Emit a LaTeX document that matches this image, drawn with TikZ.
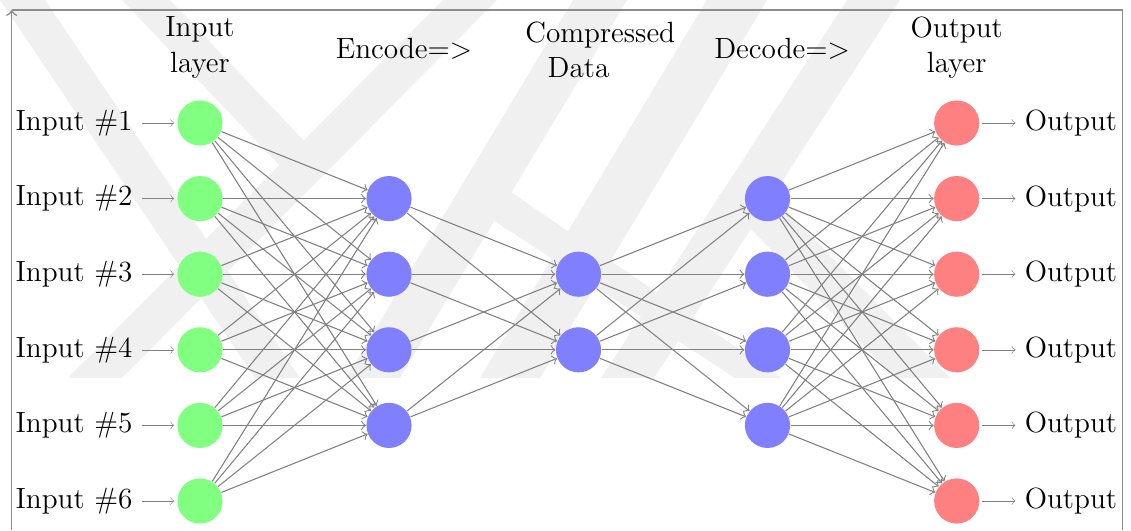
\documentclass[tikz,border=0pt]{standalone}
\begin{document}
\begin{tikzpicture}[x=0.013228cm, y=-0.013228cm,
    every node/.style={font=\fontsize{11}{13.3}\selectfont},
    neuron/.style={circle, minimum size=17pt, inner sep=0pt},
    input neuron/.style={neuron, fill=green!50},
    hidden neuron/.style={neuron, fill=blue!50},
    output neuron/.style={neuron, fill=red!50},
    link/.style={->, draw=black!50},
    in pin/.style={pin edge={<-, draw=black!50, shorten <=1pt}, pin distance=13.2pt},
    out pin/.style={pin edge={->, draw=black!50, shorten <=1pt}, pin distance=13.4pt},
    annot/.style={text width=4em, align=center},
    framing/.style={draw=black!45, line width=0.6pt},
    mark band/.style={fill=black!6, draw=none}]
  \useasboundingbox (0,0) rectangle (1131,530);

  % light background emblem
  \fill[mark band] (0,0) -- (45,0) -- (300,378) -- (255,378) -- cycle;
  \fill[mark band] (122,0) -- (170,0) -- (329,167) -- (281,167) -- cycle;
  \fill[mark band] (443,0) -- (497,0) -- (122,378) -- (68,378) -- cycle;
  \fill[mark band] (573,0) -- (627,0) -- (400,378) -- (346,378) -- cycle;
  \fill[mark band] (470,205) -- (505,188) -- (781,378) -- (735,378) -- cycle;
  \fill[mark band] (707,0) -- (767,0) -- (540,378) -- (480,378) -- cycle;
  \fill[mark band] (847,0) -- (900,0) -- (654,378) -- (601,378) -- cycle;
  \fill[mark band] (718,195) -- (771,195) -- (950,378) -- (895,378) -- cycle;

  % frame
  \coordinate (fbl) at (11.7,530);
  \coordinate (ftl) at (11.7,10);
  \coordinate (ftr) at (1122.5,10);
  \coordinate (fbr) at (1122.5,530);
  \draw[framing, ->] (fbl) -- (ftl);
  \draw[framing] (ftl) -- (ftr) -- (fbr);

  % input layer
  \foreach \k in {1,...,6}
    \node[input neuron, pin={[in pin]left:Input \#\k}]
      (I-\k) at (200, {123+75.6*(\k-1)}) {};

  % encoder layer
  \foreach \k in {1,...,4}
    \node[hidden neuron] (H-\k) at (389, {198.6+75.6*(\k-1)}) {};

  % compressed layer
  \foreach \k in {1,2}
    \node[hidden neuron] (C-\k) at (578.5, {274.2+75.6*(\k-1)}) {};

  % decoder layer
  \foreach \k in {1,...,4}
    \node[hidden neuron] (D-\k) at (767.5, {198.6+75.6*(\k-1)}) {};

  % output layer
  \foreach \k in {1,...,6}
    \node[output neuron, pin={[out pin]right:Output}]
      (O-\k) at (956.7, {123+75.6*(\k-1)}) {};

  % connections
  \foreach \s in {1,...,6}
    \foreach \t in {1,...,4}
      \draw[link] (I-\s) -- (H-\t);
  \foreach \s in {1,...,4}
    \foreach \t in {1,2}
      \draw[link] (H-\s) -- (C-\t);
  \foreach \s in {1,2}
    \foreach \t in {1,...,4}
      \draw[link] (C-\s) -- (D-\t);
  \foreach \s in {1,...,4}
    \foreach \t in {1,...,6}
      \draw[link] (D-\s) -- (O-\t);

  % layer captions
  \node[annot] (cap-in) at (200,47.5) {Input layer};
  \node[annot] (cap-enc) at (389,49) {Encode=>};
  \node[annot] (cap-mid) at (578.5,50) {Compressed Data};
  \node[annot] (cap-dec) at (767.5,49) {Decode=>};
  \node[annot] (cap-out) at (956.7,47.5) {Output layer};
\end{tikzpicture}
\end{document}
